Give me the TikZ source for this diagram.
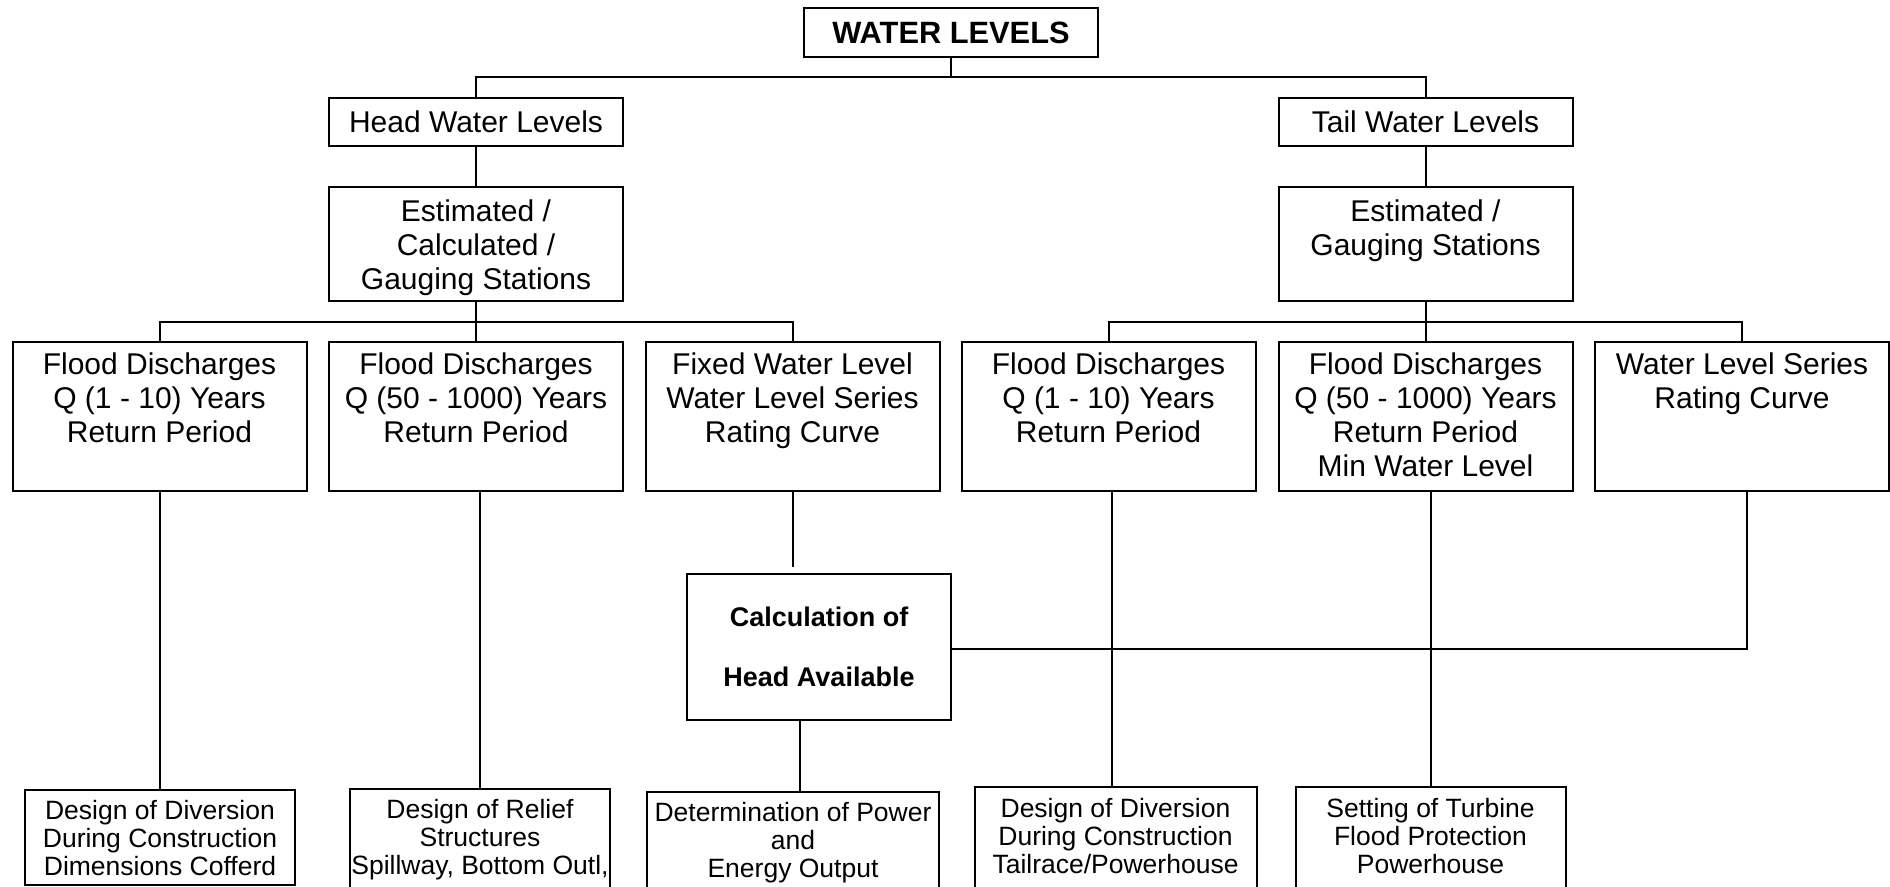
\documentclass[tikz,border=0pt]{standalone}
\usepackage{fontspec}
\setmainfont{Liberation Sans}
\usetikzlibrary{calc}

\tikzset{
  x=0.5pt, y=-0.5pt,
  box/.style={draw, line width=1pt, inner sep=0pt, fill=white},
  lvl/.style={box, minimum width=147pt},
  txt/.style={anchor=north, align=center, inner sep=0pt,
              font=\fontsize{15}{17}\selectfont},
  btxt/.style={anchor=north, align=center, inner sep=0pt,
               font=\fontsize{13.25}{14}\selectfont},
  link/.style={line width=1pt}
}

\begin{document}
\begin{tikzpicture}
\clip (0,0) rectangle (1890,887);
\fill[white] (0,0) rectangle (1890,887);

% top level
\node[lvl, minimum height=24.5pt, font=\bfseries\fontsize{15.4}{17}\selectfont]
  (wl) at (951,32.5) {WATER LEVELS};
\node[lvl, minimum height=24pt, font=\fontsize{15}{17}\selectfont]
  (hw) at (476,122) {Head Water Levels};
\node[lvl, minimum height=24pt, font=\fontsize{15}{17}\selectfont]
  (tw) at (1425.5,122) {Tail Water Levels};

% sources of the levels
\node[lvl, minimum height=57pt,
  label={[txt, yshift=-6.5pt]north:Estimated /\\Calculated /\\Gauging Stations}]
  (ec) at (476,244) {};
\node[lvl, minimum height=57pt,
  label={[txt, yshift=-6.5pt]north:Estimated /\\Gauging Stations}]
  (eg) at (1425.5,244) {};

% data series
\node[lvl, minimum height=74.5pt,
  label={[txt, yshift=-5.5pt]north:Flood Discharges\\Q (1 - 10) Years\\Return Period}]
  (r1) at (159.5,416.5) {};
\node[lvl, minimum height=74.5pt,
  label={[txt, yshift=-5.5pt]north:Flood Discharges\\Q (50 - 1000) Years\\Return Period}]
  (r2) at (476,416.5) {};
\node[lvl, minimum height=74.5pt,
  label={[txt, yshift=-5.5pt]north:Fixed Water Level\\Water Level Series\\Rating Curve}]
  (r3) at (792.5,416.5) {};
\node[lvl, minimum height=74.5pt,
  label={[txt, yshift=-5.5pt]north:Flood Discharges\\Q (1 - 10) Years\\Return Period}]
  (r4) at (1108.5,416.5) {};
\node[lvl, minimum height=74.5pt,
  label={[txt, yshift=-5.5pt]north:Flood Discharges\\Q (50 - 1000) Years\\Return Period\\Min Water Level}]
  (r5) at (1425.5,416.5) {};
\node[lvl, minimum height=74.5pt,
  label={[txt, yshift=-5.5pt]north:Water Level Series\\Rating Curve}]
  (r6) at (1742,416.5) {};

% head calculation
\node[box, minimum width=132pt, minimum height=73pt, align=center,
  font=\bfseries\fontsize{13.5}{30}\selectfont]
  (calc) at (819,647) {Calculation of\\Head Available};

% design results
\node[box, minimum width=135pt, minimum height=47.5pt,
  label={[btxt, yshift=-5.25pt]north:Design of Diversion\\During Construction\\Dimensions Cofferd}]
  (b1) at (160,837.5) {};
\node[box, minimum width=130pt, minimum height=53pt,
  label={[btxt, yshift=-5.5pt]north:Design of Relief\\Structures\\Spillway, Bottom Outl,}]
  (b2) at (480,842) {};
\node[box, minimum width=146pt, minimum height=52pt,
  label={[btxt, yshift=-5.25pt]north:Determination of Power\\and\\Energy Output}]
  (b3) at (793,844) {};
\node[box, minimum width=141pt, minimum height=54pt,
  label={[btxt, yshift=-5.75pt]north:Design of Diversion\\During Construction\\Tailrace/Powerhouse}]
  (b4) at (1115.5,841) {};
\node[box, minimum width=135pt, minimum height=54pt,
  label={[btxt, yshift=-5.75pt]north:Setting of Turbine\\Flood Protection\\Powerhouse}]
  (b5) at (1430.5,841) {};

% junctions of the tree
\coordinate (j0) at (951,77);
\coordinate (jl) at (476,322);
\coordinate (jr) at (1425.5,322);

\draw[link] (wl.south) -- (j0);
\draw[link] (hw.north) -- (hw.north |- j0) -- (tw.north |- j0) -- (tw.north);
\draw[link] (hw.south) -- (ec.north);
\draw[link] (tw.south) -- (eg.north);

\draw[link] (ec.south) -- (jl);
\draw[link] (r1.north) -- (r1.north |- jl) -- (r3.north |- jl) -- (r3.north);
\draw[link] (r2.north) -- (r2.north |- jl);
\draw[link] (eg.south) -- (jr);
\draw[link] (r4.north) -- (r4.north |- jr) -- (r6.north |- jr) -- (r6.north);
\draw[link] (r5.north) -- (r5.north |- jr);

% from the data to the design results
\draw[link] (r1.south -| b1.north) -- (b1.north);
\draw[link] (r2.south -| b2.north) -- (b2.north);
\draw[link] (r3.south) -- ($(r3.south |- calc.north)+(0,-6)$);
\draw[link] ([xshift=-9.5pt]calc.south) -- ([xshift=-9.5pt]calc.south |- b3.north);
\draw[link] ([xshift=1.5pt]r4.south) -- ([xshift=1.5pt]r4.south |- b4.north);
\draw[link] (r5.south -| b5.north) -- (b5.north);
\draw[link] ($(calc.east)+(0,2)$) -| ([xshift=2.5pt]r6.south);
\end{tikzpicture}
\end{document}
